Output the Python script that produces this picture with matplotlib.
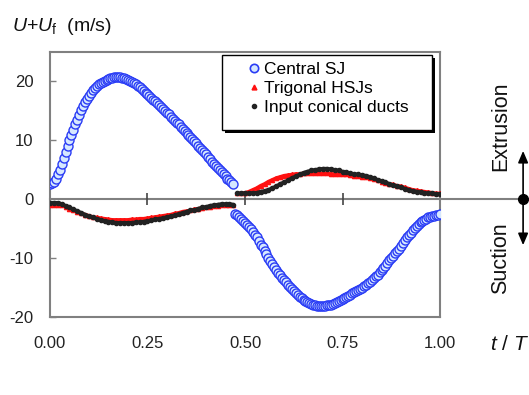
import numpy as np
import matplotlib.pyplot as plt
from matplotlib.patches import Rectangle
from matplotlib.transforms import blended_transform_factory

plt.rcParams['font.family'] = ['Liberation Sans', 'DejaVu Sans']
plt.rcParams['mathtext.fontset'] = 'custom'
plt.rcParams['mathtext.rm'] = 'Liberation Sans'
plt.rcParams['mathtext.it'] = 'Liberation Sans:italic'
plt.rcParams['axes.unicode_minus'] = False

# Central SJ, sampled every 0.005 T
t_sj_ext = np.round(np.arange(0.0, 0.4701, 0.005), 3)
sj_ext = [2.6, 2.7, 3.0, 3.4, 4.2, 5.0, 6.0, 7.0, 8.0, 9.0,
          10.0, 10.9, 11.8, 12.7, 13.5, 14.3, 15.1, 15.8, 16.5, 17.1,
          17.6, 18.1, 18.5, 18.9, 19.2, 19.5, 19.7, 19.9, 20.1, 20.3,
          20.4, 20.5, 20.6, 20.7, 20.8, 20.8, 20.7, 20.6, 20.5, 20.4,
          20.2, 20.1, 19.9, 19.7, 19.5, 19.3, 19.0, 18.7, 18.4, 18.1,
          17.8, 17.5, 17.2, 16.9, 16.6, 16.3, 16.0, 15.7, 15.4, 15.0,
          14.7, 14.4, 14.0, 13.7, 13.3, 13.0, 12.7, 12.3, 12.0, 11.6,
          11.3, 10.9, 10.6, 10.2, 9.9, 9.5, 9.1, 8.7, 8.3, 8.0,
          7.6, 7.2, 6.8, 6.4, 6.0, 5.7, 5.3, 4.9, 4.6, 4.2,
          3.9, 3.5, 3.2, 2.9, 2.6]
t_sj_suc = np.round(np.arange(0.475, 1.0001, 0.005), 3)
sj_suc = [-2.5, -2.7, -3.0, -3.3, -3.7, -4.0, -4.3, -4.7, -5.1, -5.5,
          -6.0, -6.5, -7.1, -7.7, -8.2, -8.8, -9.3, -9.9, -10.5, -11.0,
          -11.5, -12.0, -12.5, -12.9, -13.3, -13.7, -14.1, -14.5, -14.9, -15.3,
          -15.6, -16.0, -16.3, -16.6, -16.8, -17.1, -17.3, -17.5, -17.7, -17.8,
          -17.9, -18.0, -18.1, -18.1, -18.1, -18.1, -18.1, -18.0, -18.0, -17.9,
          -17.8, -17.6, -17.5, -17.3, -17.1,
          -16.9, -16.7, -16.6, -16.4, -16.2, -16.0, -15.8, -15.6, -15.4, -15.2,
          -15.0, -14.8, -14.5, -14.3, -14.0, -13.7, -13.4, -13.1, -12.8, -12.4,
          -12.1, -11.7, -11.3, -10.9, -10.4, -10.0, -9.6, -9.2, -8.8, -8.4,
          -7.9, -7.4, -7.0, -6.5, -6.1, -5.7, -5.3, -4.9, -4.5, -4.2,
          -3.9, -3.7, -3.5, -3.3, -3.1, -3.0, -2.9, -2.8, -2.7, -2.6, -2.5]

# Trigonal HSJs and input ducts, sampled every 0.01 T
t_a = np.round(np.arange(0.0, 0.4701, 0.01), 2)
t_b = np.round(np.arange(0.48, 1.0001, 0.01), 2)
hsj_a = [-0.9, -0.9, -0.9, -1.0, -1.3, -1.6, -1.9, -2.2, -2.4, -2.6,
         -2.8, -3.0, -3.1, -3.2, -3.3, -3.4, -3.5, -3.5, -3.5, -3.5,
         -3.5, -3.4, -3.4, -3.3, -3.3, -3.2, -3.1, -3.0, -2.9, -2.8,
         -2.7, -2.6, -2.4, -2.3, -2.1, -2.0, -1.9, -1.7, -1.6, -1.5,
         -1.4, -1.3, -1.2, -1.1, -1.0, -1.0, -1.0, -1.0]
hsj_b = [1.0, 1.0, 1.1, 1.3, 1.6, 1.9, 2.3, 2.6, 3.0, 3.3,
         3.6, 3.8, 4.0, 4.1, 4.2, 4.3, 4.3, 4.4, 4.4, 4.4,
         4.4, 4.4, 4.4, 4.4, 4.3, 4.3, 4.3, 4.2, 4.2, 4.1,
         4.0, 3.9, 3.8, 3.7, 3.6, 3.4, 3.2, 3.0, 2.8, 2.6,
         2.5, 2.3, 2.2, 2.0, 1.8, 1.6, 1.5, 1.4, 1.3, 1.2,
         1.1, 1.0, 1.0]
duct_a = [-0.6, -0.6, -0.6, -0.8, -1.1, -1.4, -1.7, -2.0, -2.3, -2.6,
          -2.9, -3.1, -3.3, -3.5, -3.7, -3.8, -3.9, -4.0, -4.0, -4.0,
          -4.0, -4.0, -3.9, -3.9, -3.8, -3.7, -3.6, -3.4, -3.3, -3.2,
          -3.0, -2.9, -2.7, -2.5, -2.3, -2.1, -1.9, -1.8, -1.6, -1.4,
          -1.3, -1.1, -1.0, -0.9, -0.8, -0.8, -0.8, -0.9]
duct_b = [1.0, 1.0, 1.0, 1.0, 1.1, 1.1, 1.3, 1.4, 1.6, 1.9,
          2.2, 2.6, 2.9, 3.2, 3.6, 3.9, 4.2, 4.5, 4.7, 4.9,
          5.0, 5.1, 5.2, 5.2, 5.1, 5.0, 4.9, 4.7, 4.6, 4.4,
          4.3, 4.2, 4.1, 4.0, 3.8, 3.6, 3.3, 3.1, 2.9, 2.6,
          2.4, 2.2, 2.0, 1.8, 1.6, 1.4, 1.3, 1.2, 1.1, 1.0,
          1.0, 0.9, 0.9]

labels = ['Central SJ', 'Trigonal HSJs', 'Input conical ducts']
xticks = [0.0, 0.25, 0.5, 0.75, 1.0]
yticks = [-20, -10, 0, 10, 20]

fig = plt.figure(figsize=(5.29, 3.95), dpi=100)
ax = fig.add_axes([0.0945, 0.1975, 0.7373, 0.6709])

red = '#ff1010'
blk = '#222222'
blue = '#2a3cf5'

for tt, vv in [(t_a, hsj_a), (t_b, hsj_b)]:
    ax.plot(tt, vv, color=red, lw=2.5, marker='^', ms=3, mec=red, mfc=red,
            solid_capstyle='butt', zorder=3)
for tt, vv in [(t_a, duct_a), (t_b, duct_b)]:
    ax.plot(tt, vv, color=blk, lw=2.5, marker='o', ms=3, mec=blk, mfc=blk,
            solid_capstyle='butt', zorder=4)
for tt, vv in [(t_sj_ext, sj_ext), (t_sj_suc, sj_suc)]:
    ax.plot(tt, vv, ls='none', marker='o', ms=6.5, mec=blue, mfc='#d6e8ff',
            mew=1.0, zorder=5)

# legend: box with hard black shadow drawn separately, entries without frame
ax.add_patch(Rectangle((0.449, 0.695), 0.538, 0.283, transform=ax.transAxes,
                       facecolor='black', edgecolor='none', zorder=7))
ax.add_patch(Rectangle((0.441, 0.706), 0.538, 0.283, transform=ax.transAxes,
                       facecolor='white', edgecolor='black', lw=1.0, zorder=8))
h1, = ax.plot([], [], ls='none', marker='o', ms=6, mec=blue, mfc='#d6e8ff', mew=1.2)
h2, = ax.plot([], [], ls='none', marker='^', ms=3.5, mec=red, mfc=red)
h3, = ax.plot([], [], ls='none', marker='o', ms=3, mec=blk, mfc=blk)
leg = ax.legend([h1, h2, h3], labels, loc='upper left',
                bbox_to_anchor=(0.504, 0.962), fontsize=12.5, frameon=False,
                handlelength=0.8, handletextpad=0.2, labelspacing=0.22,
                borderpad=0, borderaxespad=0)
leg.set_zorder(9)

ax.set_xlim(0, 1)
ax.set_ylim(-20, 25)
ax.set_xticks(xticks)
ax.set_xticklabels(['%.2f' % x for x in xticks])
ax.set_yticks(yticks)
ax.tick_params(axis='x', length=0, pad=14, labelsize=12, colors='#222222')
ax.tick_params(axis='y', direction='in', length=4, width=1, color='#808080',
               pad=12, labelsize=12, labelcolor='#222222')
for s in ax.spines.values():
    s.set_color('#808080')
    s.set_linewidth(1.5)

# zero line extended past the frame, with ticks on it
trans = blended_transform_factory(ax.transAxes, ax.transData)
ax.plot([0, 1.225], [0, 0], color='#808080', lw=1.5, transform=trans,
        clip_on=False, zorder=2)
ax.plot(xticks[1:-1], [0] * 3, ls='none', marker='|', ms=9, mew=1.2,
        color='#444444', zorder=2)

# extrusion / suction arrows
xa = 1.213
for yend in [8.2, -7.8]:
    ax.annotate('', xy=(xa, yend), xytext=(xa, 0), xycoords=trans, textcoords=trans,
                arrowprops=dict(arrowstyle='-|>,head_length=0.7,head_width=0.3',
                                color='black', lw=1.2, shrinkA=0, shrinkB=0))
ax.plot([xa], [0], marker='o', ms=7, color='black', transform=trans,
        clip_on=False, zorder=6)
ax.text(1.155, 12.4, 'Extrusion', transform=trans, rotation=90, fontsize=15.5,
        ha='center', va='center', color='#111111')
ax.text(1.155, -10.0, 'Suction', transform=trans, rotation=90, fontsize=15.5,
        ha='center', va='center', color='#111111')

ax.text(1.128, -0.102, r'$t$ / $T$', transform=ax.transAxes, fontsize=15,
        ha='left', va='center', color='#111111')
fig.text(0.0227, 0.932, r'$U$+$U_{\rm f}$  (m/s)', fontsize=14,
         ha='left', va='center', color='#111111')

fig.savefig('out.png', dpi=100)
